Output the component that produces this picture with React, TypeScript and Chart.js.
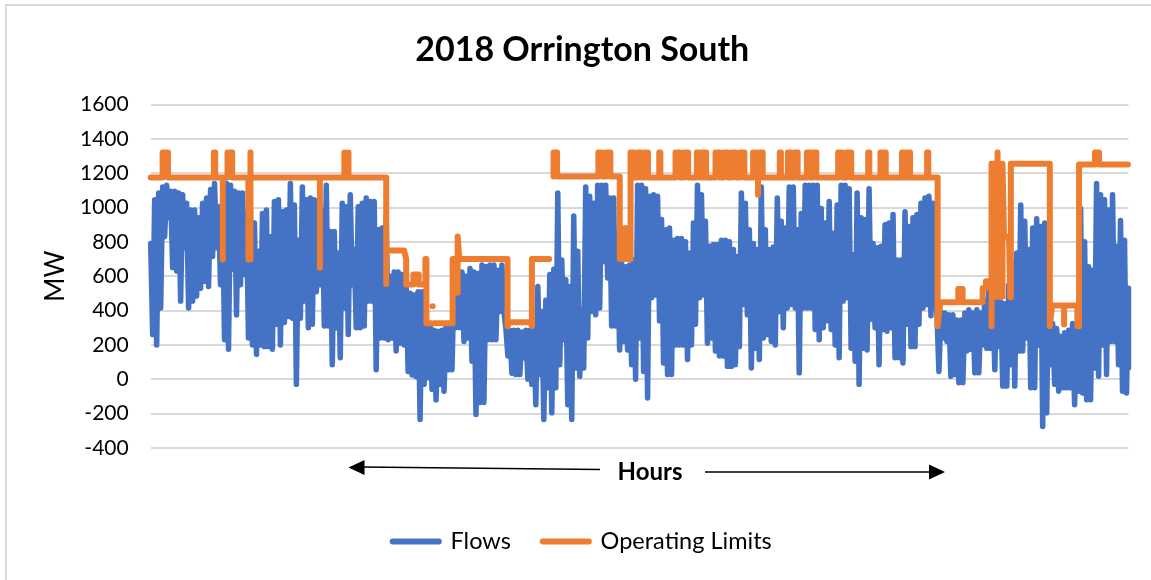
import React, { useEffect, useRef } from "react";
import { Chart, registerables } from "chart.js";

Chart.register(...registerables);

const chartTitle = "2018 Orrington South";
const yTitle = "MW";
const xTitle = "Hours";
const hoursInYear = 8760;

// Upper reach of the flows in each successive slice of the year (MW)
const flowPeaks = [
  790,1045,1085,1120,1130,1095,1095,1085,1075,1025,985,985,940,1025,1055,1105,1140,1005,1025,1140,
  1130,1095,1085,1085,965,985,910,745,965,985,830,1035,1045,975,985,1140,1015,810,1120,1045,
  1055,1045,850,985,1130,860,860,735,1025,1005,1075,755,1005,1025,1055,1035,1035,870,880,955,
  600,625,625,610,550,500,490,510,510,425,325,285,280,285,305,305,600,600,625,600,
  645,625,615,
  665,655,665,665,635,665,295,285,285,285,275,285,285,285,540,395,460,610,640,1085,
  695,580,540,950,745,405,1120,1065,1025,1130,1130,1130,1055,1055,735,675,655,665,695,1130,
  1130,1110,1065,1075,1065,930,870,880,810,820,820,800,735,910,1130,1075,920,775,785,785,
  810,810,800,755,715,1085,1025,870,790,755,1120,870,755,770,1055,920,880,1120,1120,870,
  965,1130,1130,1130,1130,
  995,910,1035,850,1015,1130,1130,1110,725,1085,940,930,1110,790,765,775,900,910,960,695,
  695,975,890,940,960,1025,1055,1065,1025,385,395,385,375,375,345,345,385,405,385,405,
  385,460,530,500,540,450,440,550,675,735,1015,920,755,880,935,890,910,600,325,295,
  250,270,285,325,285,995,800,655,635,1140,1075,1045,985,1075,775,925,810,530,
];

// Lower reach of the flows in the same slices (MW)
const flowTroughs = [
  260,200,415,830,940,650,630,455,765,415,455,485,530,570,540,715,765,550,230,175,
  640,375,550,610,240,200,145,200,190,190,175,320,200,330,365,355,-30,355,455,300,
  320,510,550,310,310,85,300,125,415,260,550,300,300,310,455,455,55,240,240,230,
  240,165,210,200,45,25,15,-235,-30,8,-60,-120,-30,-70,55,55,300,300,220,240,
  105,-205,-135,
  -135,230,230,230,395,395,135,35,27,27,125,0,-30,-148,27,-235,-50,-196,-50,85,
  230,-148,-235,65,17,65,240,395,375,415,685,590,310,310,170,220,170,85,0,240,
  45,-109,475,490,340,95,27,27,200,200,200,115,200,320,475,490,210,240,165,135,
  135,75,75,85,190,435,375,65,180,115,240,260,220,200,395,300,415,435,415,37,
  415,415,415,290,230,
  300,340,290,200,125,455,475,180,105,-30,180,170,350,300,85,290,280,300,125,125,
  95,320,190,190,320,415,435,370,550,45,240,220,17,27,-20,-20,165,175,37,37,
  200,180,180,55,190,-40,-40,85,-40,165,165,240,-50,-50,200,-275,-196,85,-30,-70,
  -50,-50,-50,-148,-70,-80,-120,-120,65,17,200,27,220,220,85,-70,-80,65,
];

// Operating limit: [hour, MW]; null starts a new run
const limitRuns: ([number, number] | null)[] = [
  [0,1175],[107,1175],[107,1320],[155,1320],[155,1175],
  [566,1175],[566,1320],[578,1320],[578,1175],
  [646,1175],[646,697],[646,1175],
  [688,1175],[688,1320],[730,1320],[730,1175],
  [875,1175],[875,697],[890,697],[890,1175],[895,1175],[895,1320],[895,1175],
  [1516,1175],[1516,649],[1516,1175],
  [1735,1175],[1735,1320],[1735,1175],[1772,1175],[1772,1320],[1772,1175],
  [2110,1175],[2110,555],[2110,750],[2270,750],[2289,700],[2289,552],
  [2354,552],[2354,610],[2401,610],[2401,552],[2461,552],[2461,700],[2470,700],[2470,326],[2515,326],
  null,[2526,425],[2527,425],null,
  [2536,326],[2705,326],[2705,700],[2735,700],[2735,503],[2750,503],[2750,831],[2765,700],
  [3197,700],[3197,309],[3215,332],[3400,332],[3415,309],[3415,700],[3570,700],
  null,
  [3609,1180],[3609,1320],[3641,1320],[3641,1180],
  [4011,1180],[4011,1320],[4047,1320],[4047,1180],[4083,1180],[4083,1320],[4118,1320],[4118,1180],
  [4202,1180],[4202,700],[4225,880],[4240,700],[4255,880],[4270,700],[4285,880],[4297,700],[4297,1175],
  [4300,1175],[4300,1320],[4331,1320],[4331,1175],[4362,1175],[4362,1320],[4393,1320],[4393,1175],[4424,1175],[4424,1320],[4455,1320],[4455,1175],
  [4556,1175],[4556,1320],[4566,1320],[4566,1175],
  [4702,1175],[4702,1320],[4740,1320],[4740,1175],[4778,1175],[4778,1320],[4815,1320],[4815,1175],
  [4893,1175],[4893,1320],[4921,1320],[4921,1175],[4949,1175],[4949,1320],[4976,1320],[4976,1175],
  [5060,1175],[5060,1320],[5097,1320],[5097,1175],[5134,1175],[5134,1320],[5171,1320],[5171,1175],
  [5208,1175],[5208,1320],[5245,1320],[5245,1175],[5282,1175],[5282,1320],[5319,1320],[5319,1175],
  [5397,1175],[5397,1320],[5426,1320],[5426,1175],[5441,1175],[5441,1075],[5441,1175],[5455,1175],[5455,1320],[5483,1320],[5483,1175],
  [5636,1175],[5636,1320],[5646,1320],[5646,1175],
  [5709,1175],[5709,1320],[5738,1320],[5738,1175],[5767,1175],[5767,1320],[5796,1320],[5796,1175],
  [5879,1175],[5879,1320],[5907,1320],[5907,1175],[5935,1175],[5935,1320],[5963,1320],[5963,1175],
  [6159,1175],[6159,1320],[6198,1320],[6198,1175],[6237,1175],[6237,1320],[6276,1320],[6276,1175],
  [6428,1175],[6428,1320],[6438,1320],[6438,1175],
  [6538,1175],[6538,1320],[6554,1320],[6554,1175],[6570,1175],[6570,1320],[6585,1320],[6585,1175],
  [6731,1175],[6731,1320],[6755,1320],[6755,1175],[6779,1175],[6779,1320],[6803,1320],[6803,1175],
  [6956,1175],[6956,1320],[6966,1320],[6966,1175],
  [7050,1175],[7050,309],[7075,449],
  [7235,449],[7235,525],[7274,525],[7274,449],[7453,449],[7453,530],[7483,530],[7483,570],[7512,570],
  [7533,570],[7533,309],[7533,1255],[7565,1255],[7565,480],[7587,480],[7587,1320],[7587,1255],
  [7610,1255],[7610,480],[7631,480],[7631,1255],[7645,830],[7690,830],[7700,478],[7706,478],[7706,1255],
  [8055,1255],[8055,309],[8075,430],[8183,430],[8183,318],[8183,430],[8302,430],[8302,309],[8317,309],[8317,1250],
  [8460,1250],[8460,1320],[8496,1320],[8496,1250],[8755,1250],
];

const seriesNames = ["Flows", "Operating Limits"];
const seriesColors = ["#4472C4", "#ED7D31"];

const font = "Lato, Carlito, sans-serif";

const flowPoints: { x: number; y: number }[] = [];
const slice = hoursInYear / (flowPeaks.length - 1);
flowPeaks.forEach((p, i) => {
  flowPoints.push({ x: i * slice, y: p });
  flowPoints.push({ x: Math.min(i + 0.5, flowPeaks.length - 1) * slice, y: flowTroughs[i] });
});

const limitPoints = limitRuns.map((p, i) =>
  p ? { x: p[0], y: p[1] } : { x: limitRuns[i - 1] ? limitRuns[i - 1]![0] + 1 : 0, y: NaN }
);

const decoration = {
  id: "decoration",
  beforeDraw(chart: Chart) {
    const { ctx } = chart;
    ctx.save();
    ctx.fillStyle = "#fff";
    ctx.fillRect(0, 0, chart.width, chart.height);
    ctx.fillStyle = "#d9d9d9";
    ctx.fillRect(5, 4, 2, chart.height - 4);
    ctx.fillRect(5, 4, chart.width - 5, 2);
    ctx.restore();
  },
  afterDraw(chart: Chart) {
    const { ctx } = chart;
    ctx.save();
    ctx.fillStyle = "#000";
    ctx.textAlign = "center";
    ctx.textBaseline = "middle";
    ctx.font = `bold 24px ${font}`;
    ctx.fillText(xTitle, 650, 472);
    ctx.strokeStyle = "#000";
    ctx.lineWidth = 1.5;
    ctx.beginPath();
    ctx.moveTo(600, 469.5);
    ctx.lineTo(362, 467);
    ctx.moveTo(705, 472);
    ctx.lineTo(930, 472);
    ctx.stroke();
    ctx.beginPath();
    ctx.moveTo(348.5, 467.5);
    ctx.lineTo(364.5, 460);
    ctx.lineTo(364.5, 475);
    ctx.closePath();
    ctx.moveTo(945, 472);
    ctx.lineTo(929, 464.5);
    ctx.lineTo(929, 479.5);
    ctx.closePath();
    ctx.fill();
    ctx.restore();
  },
};

export default function App() {
  const ref = useRef<HTMLCanvasElement>(null);
  useEffect(() => {
    const chart = new Chart(ref.current!, {
      type: "line",
      data: {
        datasets: [
          {
            label: seriesNames[0],
            data: flowPoints,
            borderColor: seriesColors[0],
            backgroundColor: seriesColors[0],
            borderWidth: 5.5,
            order: 2,
          },
          {
            label: seriesNames[1],
            data: limitPoints,
            borderColor: seriesColors[1],
            backgroundColor: seriesColors[1],
            borderWidth: 6,
            order: 1,
            spanGaps: false,
          },
        ],
      } as any,
      options: {
        responsive: false,
        animation: false,
        events: [],
        clip: false,
        elements: {
          point: { radius: 0 },
          line: { tension: 0, borderCapStyle: "round", borderJoinStyle: "round" },
        },
        layout: { padding: { left: 36, right: 22.5, top: 0, bottom: 16.75 } },
        plugins: {
          tooltip: { enabled: false },
          title: {
            display: true,
            text: chartTitle,
            color: "#000",
            font: { family: font, size: 34, weight: "bold" },
            padding: { top: 30, bottom: 33.7 },
          },
          legend: {
            position: "bottom",
            labels: {
              color: "#000",
              font: { family: font, size: 23.5 },
              padding: 32,
              usePointStyle: true,
              pointStyleWidth: 46,
              generateLabels: () =>
                seriesNames.map((text, i) => ({
                  text,
                  fontColor: "#000",
                  fillStyle: seriesColors[i],
                  strokeStyle: seriesColors[i],
                  lineWidth: 6,
                  lineCap: "round",
                  pointStyle: "line",
                  datasetIndex: i,
                })),
            },
          },
        },
        scales: {
          x: {
            type: "linear",
            min: 0,
            max: hoursInYear,
            grid: { display: false },
            border: { display: false },
            ticks: { display: false },
            afterFit(scale: any) {
              scale.height = 49.85;
            },
          },
          y: {
            min: -400,
            max: 1600,
            ticks: {
              stepSize: 200,
              color: "#000",
              font: { family: font, size: 21 },
              padding: 22,
              callback: (v: number) => String(v),
            },
            grid: { color: "#d9d9d9", lineWidth: 2, drawTicks: false },
            border: { display: false },
            title: {
              display: true,
              text: yTitle,
              color: "#000",
              font: { family: font, size: 26 },
              padding: { top: 4, bottom: 0 },
            },
            afterFit(scale: any) {
              scale.width = 114.7;
            },
          },
        },
      } as any,
      plugins: [decoration],
    });
    return () => chart.destroy();
  }, []);
  return (
    <div style={{ position: "absolute", left: 0, top: 0, width: 1151, height: 580, background: "#fff" }}>
      <canvas ref={ref} width={1151} height={580} style={{ display: "block" }} />
    </div>
  );
}
